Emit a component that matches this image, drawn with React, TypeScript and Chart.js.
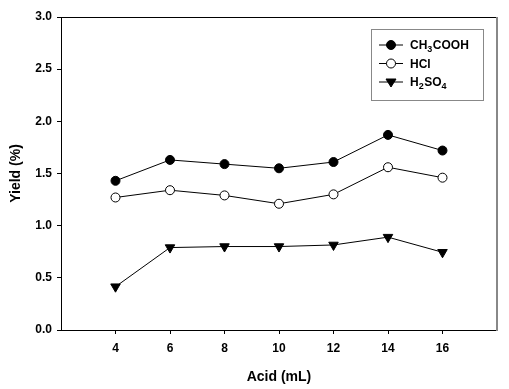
import React, { useEffect, useRef } from "react";
import { Chart, registerables } from "chart.js";

Chart.register(...registerables);

const acidML = [4, 6, 8, 10, 12, 14, 16];
const xTicks = [4, 6, 8, 10, 12, 14, 16];
const ch3cooh = [1.43, 1.63, 1.59, 1.55, 1.61, 1.87, 1.72];
const hcl = [1.27, 1.34, 1.29, 1.21, 1.30, 1.56, 1.46];
const h2so4 = [0.415, 0.79, 0.80, 0.80, 0.815, 0.89, 0.745];

// legend label parts: [text, isSubscript]
const legendLabels: [string, boolean][][] = [
  [["CH", false], ["3", true], ["COOH", false]],
  [["HCl", false]],
  [["H", false], ["2", true], ["SO", false], ["4", true]],
];

const FONT = "'Liberation Sans', Arial, sans-serif";

function drawMarker(ctx: CanvasRenderingContext2D, style: string, x: number, y: number, r: number, fill: string) {
  ctx.save();
  ctx.fillStyle = fill;
  ctx.strokeStyle = "#000";
  ctx.lineWidth = 1;
  ctx.beginPath();
  if (style === "triangle") {
    ctx.moveTo(x - r, y - r * 0.6);
    ctx.lineTo(x + r, y - r * 0.6);
    ctx.lineTo(x, y + r * 1.0);
    ctx.closePath();
  } else {
    ctx.arc(x, y, r, 0, Math.PI * 2);
  }
  ctx.fill();
  ctx.stroke();
  ctx.restore();
}

const framePlugin = {
  id: "frame",
  afterDraw(chart: any) {
    const { ctx, chartArea } = chart;
    const { left, right, top, bottom } = chartArea;
    ctx.save();
    ctx.strokeStyle = "#000";
    ctx.lineWidth = 1;
    ctx.beginPath();
    ctx.moveTo(left, top + 0.5);
    ctx.lineTo(right, top + 0.5);
    ctx.stroke();
    ctx.strokeStyle = "#888";
    ctx.lineWidth = 2;
    ctx.beginPath();
    ctx.moveTo(right, top);
    ctx.lineTo(right, bottom + 1);
    ctx.stroke();

    // legend box
    const bx = 371, by = 29, bw = 112, bh = 71;
    ctx.strokeStyle = "#888";
    ctx.lineWidth = 1;
    ctx.strokeRect(bx + 0.5, by + 0.5, bw, bh);
    const rowsY = [45, 63.5, 82];
    chart.data.datasets.forEach((ds: any, i: number) => {
      const y = rowsY[i];
      ctx.strokeStyle = "#000";
      ctx.lineWidth = 1;
      ctx.beginPath();
      ctx.moveTo(379, y);
      ctx.lineTo(403, y);
      ctx.stroke();
      drawMarker(ctx, ds.pointStyle, 391, y, ds.pointStyle === "triangle" ? 5 : 4.5, ds.pointBackgroundColor);
      let x = 410;
      ctx.fillStyle = "#000";
      ctx.textBaseline = "alphabetic";
      ctx.textAlign = "left";
      for (const [t, sub] of legendLabels[i]) {
        ctx.font = sub ? `bold 9px ${FONT}` : `bold 12px ${FONT}`;
        ctx.fillText(t, x, y + 4 + (sub ? 3 : 0));
        x += ctx.measureText(t).width + (sub ? 0.5 : 0);
      }
    });
    ctx.restore();
  },
};

export default function App() {
  const ref = useRef<HTMLCanvasElement>(null);
  useEffect(() => {
    document.body.style.margin = "0";
    const mk = (vals: number[]) => acidML.map((x, i) => ({ x, y: vals[i] }));
    const chart = new Chart(ref.current!, {
      type: "line",
      data: {
        datasets: [
          {
            label: "CH3COOH",
            data: mk(ch3cooh),
            borderColor: "#000",
            borderWidth: 1,
            pointStyle: "circle",
            pointRadius: 4.5,
            pointBackgroundColor: "#000",
            pointBorderColor: "#000",
            pointBorderWidth: 1,
          },
          {
            label: "HCl",
            data: mk(hcl),
            borderColor: "#000",
            borderWidth: 1,
            pointStyle: "circle",
            pointRadius: 4.5,
            pointBackgroundColor: "#fff",
            pointBorderColor: "#000",
            pointBorderWidth: 1,
          },
          {
            label: "H2SO4",
            data: mk(h2so4),
            borderColor: "#000",
            borderWidth: 1,
            pointStyle: "triangle",
            pointRotation: 180,
            pointRadius: 5.5,
            pointBackgroundColor: "#000",
            pointBorderColor: "#000",
            pointBorderWidth: 1,
          },
        ],
      } as any,
      options: {
        animation: false,
        responsive: false,
        layout: { padding: { left: 0, top: 17, right: 12, bottom: 0 } },
        plugins: { legend: { display: false }, tooltip: { enabled: false } },
        scales: {
          x: {
            type: "linear",
            min: 2,
            max: 18,
            afterBuildTicks: (s: any) => {
              s.ticks = xTicks.map((v) => ({ value: v }));
            },
            afterFit: (s: any) => {
              s.height = 59;
            },
            grid: { drawOnChartArea: false, drawTicks: true, tickLength: 4, color: "#000" },
            border: { display: true, color: "#000", width: 1 },
            ticks: {
              color: "#000",
              padding: 7,
              font: { family: FONT, size: 12, weight: "bold" },
              maxRotation: 0,
              autoSkip: false,
            },
            title: {
              display: true,
              text: "Acid (mL)",
              color: "#000",
              font: { family: FONT, size: 14, weight: "bold" },
              padding: { top: 0, bottom: 3 },
            },
          },
          y: {
            type: "linear",
            min: 0,
            max: 3,
            afterFit: (s: any) => {
              s.width = 61;
            },
            grid: { drawOnChartArea: false, drawTicks: true, tickLength: 4, color: "#000" },
            border: { display: true, color: "#000", width: 1 },
            ticks: {
              stepSize: 0.5,
              color: "#000",
              padding: 5,
              font: { family: FONT, size: 12, weight: "bold" },
              callback: (v: any) => Number(v).toFixed(1),
            },
            title: {
              display: true,
              text: "Yield (%)",
              color: "#000",
              font: { family: FONT, size: 14, weight: "bold" },
              padding: { top: 8, bottom: 0 },
            },
          },
        },
      } as any,
      plugins: [framePlugin],
    });
    return () => chart.destroy();
  }, []);
  return (
    <div style={{ position: "absolute", left: 0, top: 0, width: 509, height: 389 }}>
      <canvas ref={ref} width={509} height={389} style={{ width: 509, height: 389 }} />
    </div>
  );
}
